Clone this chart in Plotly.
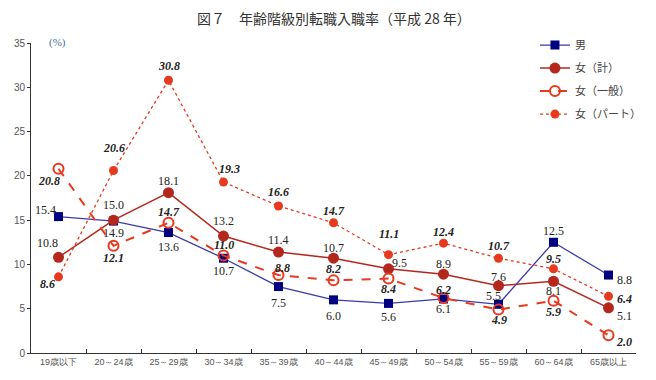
import plotly.graph_objects as go

categories = ["19歳以下", "20～24歳", "25～29歳", "30～34歳", "35～39歳", "40～44歳",
              "45～49歳", "50～54歳", "55～59歳", "60～64歳", "65歳以上"]
men = [15.4, 14.9, 13.6, 10.7, 7.5, 6.0, 5.6, 6.1, 5.5, 12.5, 8.8]
women_total = [10.8, 15.0, 18.1, 13.2, 11.4, 10.7, 9.5, 8.9, 7.6, 8.1, 5.1]
women_general = [20.8, 12.1, 14.7, 11.0, 8.8, 8.2, 8.4, 6.2, 4.9, 5.9, 2.0]
women_part = [8.6, 20.6, 30.8, 19.3, 16.6, 14.7, 11.1, 12.4, 10.7, 9.5, 6.4]
y_ticks = [0, 5, 10, 15, 20, 25, 30, 35]

# label offsets in pixels (dx, dy with dy positive = up)
men_off = [(-13, 7), (0, -12), (0, -14), (0, -13), (0, -16), (0, -16), (0, -14), (0, -10), (-5, 8), (0, 11), (16, -5)]
wt_off = [(-11, 14), (0, 15), (0, 12), (0, 15), (0, 12), (0, 10), (11, 6), (0, 10), (0, 9), (0, -10), (16, -8)]
wg_off = [(-10, -12), (0, -12), (0, 11), (0, 11), (4, 7), (0, 11), (0, -10), (0, 8), (0, -10), (0, -11), (15, -7)]
wp_off = [(-11, -7), (0, 23), (0, 14), (6, 13), (0, 14), (0, 12), (0, 21), (0, 11), (0, 12), (0, 10), (16, -3)]

RED = "#e8381e"
DARKRED = "#b5271c"
NAVY = "#000080"

fig = go.Figure()

fig.add_trace(go.Scatter(
    x=categories, y=men, name="男", mode="lines+markers", legendgroup="a",
    line=dict(color="#3a3aa8", width=1.3),
    marker=dict(symbol="square", size=9, color=NAVY),
))
fig.add_trace(go.Scatter(
    x=categories, y=women_total, name="女（計）", mode="lines+markers", legendgroup="b",
    line=dict(color=DARKRED, width=1.5),
    marker=dict(symbol="circle", size=11, color=DARKRED),
))
fig.add_trace(go.Scatter(
    x=categories, y=women_general, name="女（一般）", mode="lines+markers", legendgroup="c",
    line=dict(color=RED, width=2, dash="dash"),
    marker=dict(symbol="circle-open", size=10, color=RED, line=dict(width=2)),
))
fig.add_trace(go.Scatter(
    x=categories, y=women_part, name="女（パート）", mode="lines+markers", legendgroup="d",
    line=dict(color=RED, width=1.3, dash="dot"),
    marker=dict(symbol="circle", size=9, color=RED),
))

annotations = []
def add_labels(vals, offs, bold_italic):
    for c, v, (dx, dy) in zip(categories, vals, offs):
        txt = f"{v:.1f}"
        if bold_italic:
            txt = f"<b><i>{txt}</i></b>"
        annotations.append(dict(
            x=c, y=v, xref="x", yref="y", text=txt, showarrow=False,
            xshift=dx, yshift=dy,
            font=dict(family="Liberation Serif", size=12, color="#222222"),
        ))

add_labels(men, men_off, False)
add_labels(women_total, wt_off, False)
add_labels(women_general, wg_off, True)
add_labels(women_part, wp_off, True)

annotations.append(dict(
    x=0.5, y=1.0, xref="paper", yref="paper", yanchor="middle", yshift=25,
    text="図７　年齢階級別転職入職率（平成 28 年）",
    showarrow=False, font=dict(family="Noto Sans CJK JP", size=14, color="#333333"),
))
annotations.append(dict(
    x=0, y=35, xref="paper", yref="y", text="(%)", showarrow=False,
    xanchor="left", xshift=16, yshift=1,
    font=dict(family="Liberation Serif", size=11, color="#4a6fa0"),
))

fig.update_layout(
    width=656, height=380,
    margin=dict(l=23, r=28, t=35, b=35, autoexpand=False),
    paper_bgcolor="white", plot_bgcolor="white",
    showlegend=True,
    legend=dict(x=0.833, y=1.04, xanchor="left", yanchor="top",
                font=dict(family="Noto Sans CJK JP", size=11, color="#444444"),
                traceorder="grouped", tracegroupgap=4, itemwidth=30,
                bgcolor="rgba(0,0,0,0)"),
    annotations=annotations,
    xaxis=dict(
        type="category", range=[-0.5, 10.5], showline=True, linecolor="#333333", linewidth=1,
        ticks="inside", tickson="boundaries", ticklen=4, tickcolor="#333333",
        tickfont=dict(family="Liberation Sans Narrow, Liberation Sans", size=9, color="#555555"),
        showgrid=False, zeroline=False,
    ),
    yaxis=dict(
        range=[0, 35], tickvals=y_ticks, showline=True, linecolor="#333333", linewidth=1,
        ticks="outside", ticklen=3, tickcolor="#333333",
        tickfont=dict(family="Liberation Sans Narrow, Liberation Sans", size=10, color="#555555"),
        showgrid=False, zeroline=False,
    ),
)

fig.write_html("out.html")
